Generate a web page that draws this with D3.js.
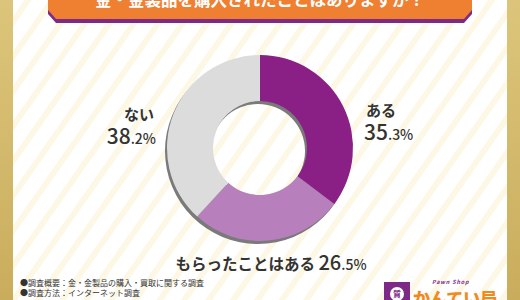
<!DOCTYPE html>
<html lang="ja">
<head>
<meta charset="UTF-8">
<title>金・金製品の購入経験</title>
<script src="https://cdnjs.cloudflare.com/ajax/libs/d3/7.8.5/d3.min.js"></script>
<style>
  html, body { margin: 0; padding: 0; background: #fff; }
  svg { display: block; }
  text { font-family: "Noto Sans CJK JP", "Noto Sans", sans-serif; }
</style>
</head>
<body>
<div id="chart"></div>
<script>
// データ
const answers = ["ある", "もらったことはある", "ない"];
const shares = [35.3, 26.5, 38.2];
const sliceColors = ["#8a1f86", "#b77fbb", "#dcdcdc"];
const title = "金・金製品を購入されたことはありますか？";
const notes = ["●調査概要：金・金製品の購入・買取に関する調査", "●調査方法：インターネット調査"];

const width = 520, height = 300;
const cx = 260, cy = 148, outerR = 93, innerR = 47;

const svg = d3.select("#chart").append("svg")
  .attr("width", width)
  .attr("height", height);

// 背景の斜めストライプ
const defs = svg.append("defs");
const pat = defs.append("pattern")
  .attr("id", "stripes")
  .attr("width", 20).attr("height", 20)
  .attr("patternUnits", "userSpaceOnUse")
  .attr("patternTransform", "rotate(35)");
pat.append("rect").attr("width", 20).attr("height", 20).attr("fill", "#ffffff");
pat.append("rect").attr("width", 6).attr("height", 20).attr("fill", "#fdf8e6");

const gold = defs.append("linearGradient").attr("id", "gold")
  .attr("x1", 0).attr("y1", 0).attr("x2", 0).attr("y2", 1);
gold.append("stop").attr("offset", 0).attr("stop-color", "#dcc57a");
gold.append("stop").attr("offset", 1).attr("stop-color", "#c9ad5c");

svg.append("rect").attr("width", width).attr("height", height).attr("fill", "url(#stripes)");
svg.append("rect").attr("x", 0).attr("y", 0).attr("width", 13).attr("height", height).attr("fill", "url(#gold)");
svg.append("rect").attr("x", 507).attr("y", 0).attr("width", 13).attr("height", height).attr("fill", "url(#gold)");

// タイトルバナー
const bx0 = 48, bx1 = 472, by1 = 23;
svg.append("path")
  .attr("d", `M${bx0},-5 L${bx1},-5 L${bx1},${by1 - 9} L${bx1 - 8},${by1} L${bx0 + 8},${by1} L${bx0},${by1 - 9} Z`)
  .attr("fill", "#7d2a87");
svg.append("path")
  .attr("d", `M${bx0},-5 L${bx1},-5 L${bx1},${by1 - 13} L${bx1 - 8},${by1 - 4} L${bx0 + 8},${by1 - 4} L${bx0},${by1 - 13} Z`)
  .attr("fill", "#ef7f31");
svg.append("text")
  .attr("x", cx).attr("y", 6)
  .attr("text-anchor", "middle")
  .attr("fill", "#fff")
  .attr("font-size", 16.5)
  .attr("font-weight", 700)
  .text(title);

// ドーナツ
const pie = d3.pie().sort(null).value(d => d)(shares);
const arc = d3.arc().innerRadius(innerR).outerRadius(outerR);

const shadow = svg.append("g").attr("transform", `translate(${cx - 2},${cy + 3})`);
shadow.append("path")
  .attr("d", d3.arc().innerRadius(innerR).outerRadius(outerR).startAngle(0).endAngle(2 * Math.PI)())
  .attr("fill", "#7a7a7a");

const donut = svg.append("g").attr("transform", `translate(${cx},${cy})`);
donut.selectAll("path")
  .data(pie)
  .join("path")
  .attr("d", arc)
  .attr("fill", (d, i) => sliceColors[i]);

// ラベル
const labelLayout = [
  { x: cx + 104, y: cy - 32, anchor: "start", inline: false },
  { x: cx + 11, y: cy + 122, anchor: "middle", inline: true },
  { x: cx - 104, y: cy - 28, anchor: "end", inline: false }
];

pie.forEach((d, i) => {
  const L = labelLayout[i];
  const parts = shares[i].toFixed(1).split(".");
  const g = svg.append("g");
  if (L.inline) {
    const t = g.append("text")
      .attr("x", L.x).attr("y", L.y)
      .attr("text-anchor", L.anchor)
      .attr("fill", "#333");
    t.append("tspan").attr("font-size", 15.5).attr("font-weight", 700).text(answers[i] + " ");
    t.append("tspan").attr("font-size", 20).attr("font-weight", 500).text(parts[0]);
    t.append("tspan").attr("font-size", 14).attr("font-weight", 500).text("." + parts[1] + "%");
  } else {
    g.append("text")
      .attr("x", L.x + (L.anchor === "end" ? -2 : 2)).attr("y", L.y)
      .attr("text-anchor", L.anchor)
      .attr("fill", "#333")
      .attr("font-size", 15)
      .attr("font-weight", 700)
      .text(answers[i]);
    const t = g.append("text")
      .attr("x", L.x).attr("y", L.y + 24)
      .attr("text-anchor", L.anchor)
      .attr("fill", "#333");
    t.append("tspan").attr("font-size", 21).attr("font-weight", 500).text(parts[0]);
    t.append("tspan").attr("font-size", 14).attr("font-weight", 500).text("." + parts[1] + "%");
  }
});

// 注記
svg.selectAll("text.note")
  .data(notes)
  .join("text")
  .attr("class", "note")
  .attr("x", 20)
  .attr("y", (d, i) => 286 + i * 10)
  .attr("font-size", 8)
  .attr("fill", "#333")
  .text(d => d);

// ロゴ
const logo = svg.append("g");
logo.append("rect").attr("x", 384).attr("y", 282).attr("width", 26).attr("height", 20).attr("fill", "#7d2a87");
logo.append("circle").attr("cx", 397).attr("cy", 294).attr("r", 7).attr("fill", "#fff");
logo.append("text").attr("x", 397).attr("y", 297).attr("text-anchor", "middle")
  .attr("font-size", 8).attr("font-weight", 700).attr("fill", "#7d2a87").text("質");
logo.append("text").attr("x", 432).attr("y", 284)
  .attr("font-size", 5.5).attr("font-style", "italic").attr("font-weight", 700)
  .attr("letter-spacing", 0.8)
  .attr("fill", "#7d2a87").text("Pawn  Shop");
logo.append("text").attr("x", 413).attr("y", 305)
  .attr("font-size", 17).attr("font-weight", 900)
  .attr("fill", "#ef8a1f").text("かんてい局");
</script>
</body>
</html>
